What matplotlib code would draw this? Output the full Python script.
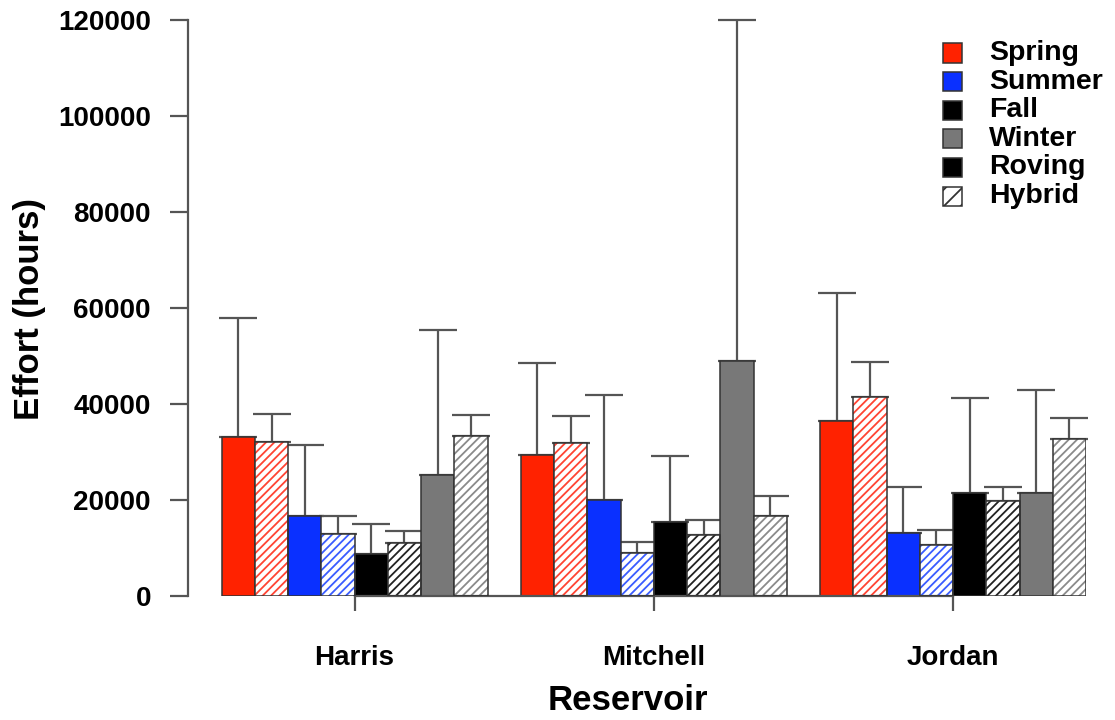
import numpy as np
import matplotlib
matplotlib.use("Agg")
import matplotlib.pyplot as plt
from matplotlib.patches import Rectangle

plt.rcParams["font.family"] = ["Liberation Sans", "DejaVu Sans"]
plt.rcParams["font.weight"] = "bold"
plt.rcParams["hatch.linewidth"] = 1.3

reservoirs = ["Harris", "Mitchell", "Jordan"]
seasons = ["Spring", "Summer", "Fall", "Winter"]

# mean effort and top of error bar, rows = reservoir, cols = season
roving_mean = [[33200, 16700, 8750, 25200],
               [29400, 19900, 15500, 49000],
               [36500, 13100, 21400, 21400]]
roving_upper = [[58000, 31500, 15100, 55400],
                [48600, 41800, 29200, 120000],
                [63100, 22800, 41200, 42900]]
hybrid_mean = [[32100, 13000, 11100, 33400],
               [31800, 9000, 12700, 16700],
               [41400, 10600, 19800, 32700]]
hybrid_upper = [[37900, 16700, 13600, 37700],
                [37400, 11300, 15800, 20800],
                [48700, 13700, 22800, 37000]]

solid_col = {"Spring": "#ff2200", "Summer": "#0a30ff", "Fall": "#000000", "Winter": "#787878"}
hatch_col = {"Spring": "#ff4433", "Summer": "#3a5cff", "Fall": "#222222", "Winter": "#8a8a8a"}
EDGE = "#333333"
ERR = "#555555"

W, H = 1115, 720
fig = plt.figure(figsize=(W / 100, H / 100), dpi=100)
ax = fig.add_axes([188.4 / W, 1 - 596 / H, (1086 - 188.4) / W, (596 - 20) / H])

for g, res in enumerate(reservoirs):
    for s, season in enumerate(seasons):
        x0 = 1 + 9 * g + 2 * s
        # roving: solid bar
        m, up = roving_mean[g][s], roving_upper[g][s]
        ax.errorbar(x0 + 0.5, m, yerr=[[0], [up - m]], fmt="none", ecolor=ERR,
                    elinewidth=1.6, capsize=13.5, capthick=1.6, zorder=1, clip_on=False)
        ax.bar(x0, m, width=1, align="edge", color=solid_col[season],
               edgecolor=EDGE, linewidth=1.1, zorder=2)
        # hybrid: hatched bar
        m, up = hybrid_mean[g][s], hybrid_upper[g][s]
        ax.errorbar(x0 + 1.5, m, yerr=[[0], [up - m]], fmt="none", ecolor=ERR,
                    elinewidth=1.6, capsize=13.5, capthick=1.6, zorder=1, clip_on=False)
        ax.bar(x0 + 1, m, width=1, align="edge", color="white",
               edgecolor=hatch_col[season], hatch="////", linewidth=0, zorder=2)
        ax.bar(x0 + 1, m, width=1, align="edge", fill=False,
               edgecolor=EDGE, linewidth=1.1, zorder=3)

ax.set_xlim(0, 27)
ax.set_ylim(0, 120000)
ax.set_yticks(np.arange(0, 120001, 20000))
ax.set_yticklabels([str(v) for v in range(0, 120001, 20000)])
ax.set_xticks([5, 14, 23])
ax.set_xticklabels(reservoirs)
for sp in ["top", "right"]:
    ax.spines[sp].set_visible(False)
ax.spines["bottom"].set_bounds(5, 23)
for sp in ["left", "bottom"]:
    ax.spines[sp].set_color(ERR)
    ax.spines[sp].set_linewidth(1.6)
ax.tick_params(axis="y", length=13, width=1.6, color=ERR, pad=14, labelsize=20)
ax.tick_params(axis="x", length=11, width=1.6, color=ERR, pad=24, labelsize=20)
for t in ax.get_xticklabels() + ax.get_yticklabels():
    t.set_fontweight("bold")

fig.text(628 / W, 1 - 700 / H, "Reservoir", ha="center", va="center",
         fontsize=25, fontweight="bold")
fig.text(30 / W, 1 - 309 / H, "Effort (hours)", ha="center", va="center",
         rotation=90, fontsize=25, fontweight="bold")

# legend drawn by hand to match row spacing
leg_labels = ["Spring", "Summer", "Fall", "Winter", "Roving", "Hybrid"]
leg_face = [solid_col["Spring"], solid_col["Summer"], "#000000", solid_col["Winter"], "#000000", "white"]
for i, lab in enumerate(leg_labels):
    yc = 53 + i * 28.6
    fc = leg_face[i]
    if lab == "Hybrid":
        fig.patches.append(Rectangle((943 / W, 1 - (yc + 9.5) / H), 19 / W, 19 / H,
                                     transform=fig.transFigure, facecolor="white",
                                     edgecolor="#333333", hatch="//", linewidth=1.1))
    else:
        fig.patches.append(Rectangle((943 / W, 1 - (yc + 9.5) / H), 19 / W, 19 / H,
                                     transform=fig.transFigure, facecolor=fc,
                                     edgecolor=EDGE, linewidth=1.1))
    fig.text(989 / W, 1 - yc / H, lab, ha="left", va="center", fontsize=20.5, fontweight="bold")

fig.savefig("out.png", dpi=100)
